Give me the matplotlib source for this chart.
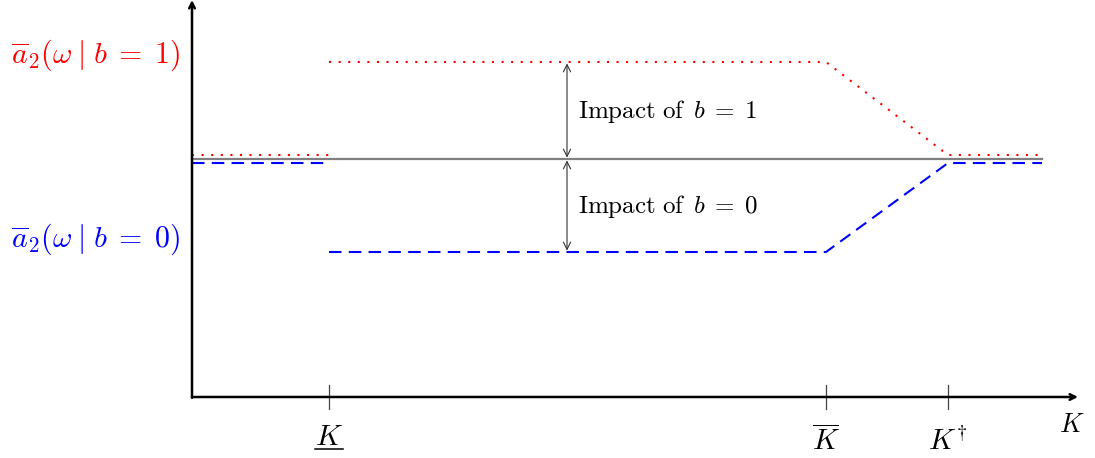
import numpy as np
import matplotlib.pyplot as plt

plt.rcParams['mathtext.fontset'] = 'cm'
plt.rcParams['font.family'] = ['cmr10', 'DejaVu Serif']
plt.rcParams['axes.formatter.use_mathtext'] = True

# thresholds on the K axis
k_low = 1.37
k_bar = 6.34
k_dag = 7.56
k_end = 8.50
k_max = 8.86

# benchmark (no b) and the two b cases
base = 2.38
red_low, red_high = 2.42, 3.35
blue_low, blue_lower = 2.34, 1.45
y_top = 3.97

red_x = [0, k_low, np.nan, k_low, k_bar, k_dag, k_end]
red_y = [red_low, red_low, np.nan, red_high, red_high, red_low, red_low]
blue_x = [0, k_low, np.nan, k_low, k_bar, k_dag, k_end]
blue_y = [blue_low, blue_low, np.nan, blue_lower, blue_lower, blue_low, blue_low]

tick_pos = [k_low, k_bar, k_dag]
tick_labels = [r'$K$', r'$\overline{K}$', r'$K^{\dagger}$']

fig = plt.figure(figsize=(10.95, 4.58), dpi=100)
ax = fig.add_axes([0, 0, 1, 1])
ax.set_xlim(-1.92, 9.03)
ax.set_ylim(-0.61, 3.97)
ax.axis('off')

ax.plot([0, k_end], [base, base], color='#808080', lw=1.6, zorder=2)
ax.plot(red_x, red_y, color='red', lw=1.5, linestyle=(0, (1, 3.6)), zorder=3)
ax.plot(blue_x, blue_y, color='blue', lw=1.5, linestyle=(0, (6, 3.5)), zorder=3)

# axes with arrows
ax.annotate('', xy=(k_max, 0), xytext=(0, 0),
            arrowprops=dict(arrowstyle='->', lw=1.8, color='black', shrinkA=0, shrinkB=0))
ax.annotate('', xy=(0, y_top), xytext=(0, -0.008),
            arrowprops=dict(arrowstyle='->', lw=1.8, color='black', shrinkA=0, shrinkB=0))

for xp, lab in zip(tick_pos, tick_labels):
    ax.plot([xp, xp], [-0.12, 0.12], color='#444444', lw=0.9)
    yb = -0.48 if xp == k_low else -0.53
    ax.text(xp, yb, lab, ha='center', va='baseline', fontsize=21)
# underline for K
ax.plot([k_low - 0.14, k_low + 0.14], [-0.515, -0.515], color='black', lw=1.1)

ax.text(8.93, -0.35, r'$K$', ha='right', va='baseline', fontsize=19)

ax.text(-0.12, 3.34, r'$\overline{a}_2(\omega\;|\;b\;=\;1)$', color='red',
        ha='right', va='baseline', fontsize=21.5)
ax.text(-0.12, 1.50, r'$\overline{a}_2(\omega\;|\;b\;=\;0)$', color='blue',
        ha='right', va='baseline', fontsize=21.5)

# impact arrows
xa = 3.75
for y0, y1, lab in [(red_high, base, r'$\mathrm{Impact\ of\ \,}b\;=\;1$'),
                    (base, blue_lower, r'$\mathrm{Impact\ of\ \,}b\;=\;0$')]:
    ax.annotate('', xy=(xa, y1), xytext=(xa, y0),
                arrowprops=dict(arrowstyle='<->', lw=0.8, color='#333333',
                                shrinkA=1, shrinkB=1, mutation_scale=13))
    ax.text(xa + 0.11, (y0 + y1) / 2 - 0.075, lab, ha='left', va='baseline', fontsize=18)

fig.savefig('out.png', dpi=100)
